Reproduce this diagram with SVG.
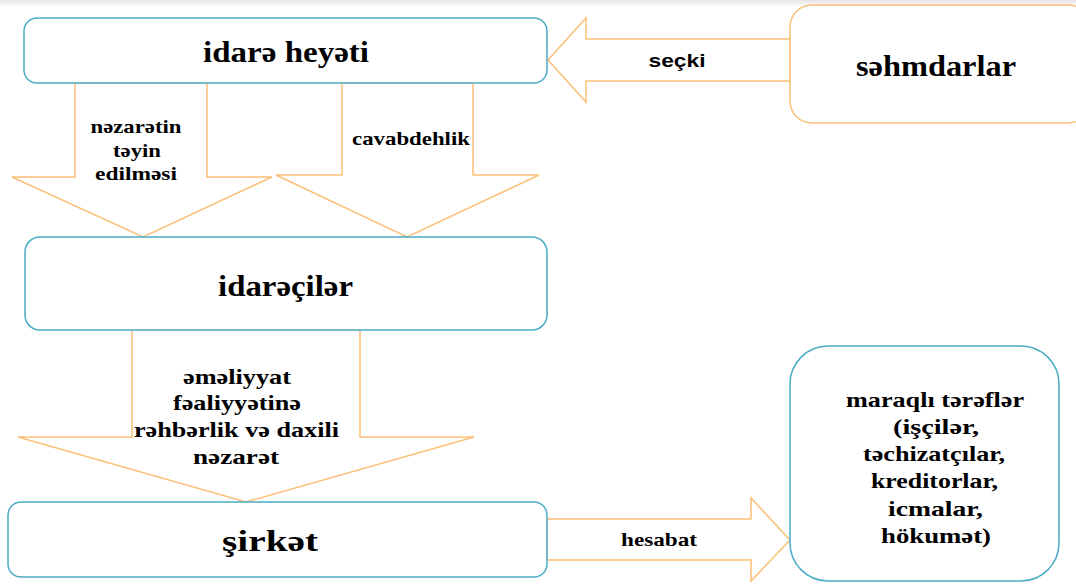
<svg xmlns="http://www.w3.org/2000/svg" width="1076" height="585" viewBox="0 0 1076 585">
<defs>
<linearGradient id="topbar" x1="0" y1="0" x2="0" y2="1">
<stop offset="0" stop-color="#e6e6e6"/>
<stop offset="1" stop-color="#ffffff"/>
</linearGradient>
</defs>
<style>
.box{fill:#fff;stroke:#4bacc6;stroke-width:1.5}
.obox{fill:#fff;stroke:#fbbf77;stroke-width:1.5}
.arr{fill:#fff;stroke:#fbbf77;stroke-width:1.5;stroke-linejoin:miter}
text{fill:#000;text-anchor:middle;font-weight:bold}
.big{font-family:"Liberation Serif",serif;font-size:29px}
.lbl{font-family:"Liberation Serif",serif;font-size:19px}
.mid{font-family:"Liberation Serif",serif;font-size:21px}
.sans{font-family:"Liberation Sans",sans-serif;font-size:19px}
</style>
<rect x="0" y="0" width="1076" height="585" fill="#fff"/>
<rect x="0" y="0" width="1076" height="7" fill="url(#topbar)"/>
<g id="connectors">
<polygon class="arr" points="790,39 586,39 586,18 548,60 586,102 586,81 790,81"/>
<polygon class="arr" points="75,83 207,83 207,177 272,177 143,237 12,177 75,177"/>
<polygon class="arr" points="342,83 473,83 473,175 539,175 407,237 276,175 342,175"/>
<polygon class="arr" points="132,330 360,330 360,437 474,437 246,502 18,437 132,437"/>
<polygon class="arr" points="547,519 751,519 751,498 790,540 751,581 751,560 547,560"/>
<text class="sans" x="677" y="67" textLength="57" lengthAdjust="spacingAndGlyphs">seçki</text>
<text class="lbl" x="136" y="133" textLength="91" lengthAdjust="spacingAndGlyphs">nəzarətin</text>
<text class="lbl" x="137" y="157" textLength="48" lengthAdjust="spacingAndGlyphs">təyin</text>
<text class="lbl" x="136" y="180" textLength="82" lengthAdjust="spacingAndGlyphs">edilməsi</text>
<text class="lbl" x="411" y="145" textLength="118" lengthAdjust="spacingAndGlyphs">cavabdehlik</text>
<text class="mid" x="237" y="384" textLength="108" lengthAdjust="spacingAndGlyphs">əməliyyat</text>
<text class="mid" x="237" y="410" textLength="128" lengthAdjust="spacingAndGlyphs">fəaliyyətinə</text>
<text class="mid" x="236.5" y="437" textLength="205" lengthAdjust="spacingAndGlyphs">rəhbərlik və daxili</text>
<text class="mid" x="236" y="464" textLength="86" lengthAdjust="spacingAndGlyphs">nəzarət</text>
<text class="lbl" x="659" y="546" textLength="76" lengthAdjust="spacingAndGlyphs">hesabat</text>
</g>
<g id="idare-heyeti">
<rect class="box" x="24" y="18" width="523" height="65" rx="13"/>
<text class="big" x="286" y="62" textLength="166" lengthAdjust="spacingAndGlyphs">idarə heyəti</text>
</g>
<g id="sehmdarlar">
<rect class="obox" x="790" y="5" width="300" height="118" rx="22"/>
<text class="big" x="936" y="76" textLength="160" lengthAdjust="spacingAndGlyphs">səhmdarlar</text>
</g>
<g id="idareciler">
<rect class="box" x="25" y="237" width="522" height="93" rx="15"/>
<text class="big" x="285.5" y="296" textLength="135" lengthAdjust="spacingAndGlyphs">idarəçilər</text>
</g>
<g id="sirket">
<rect class="box" x="8" y="502" width="539" height="75" rx="13"/>
<text class="big" x="270" y="551" textLength="96" lengthAdjust="spacingAndGlyphs">şirkət</text>
</g>
<g id="maraqli-terefler">
<rect class="box" x="790" y="346" width="269" height="235" rx="38"/>
<text class="mid" x="935" y="407" textLength="178" lengthAdjust="spacingAndGlyphs">maraqlı tərəflər</text>
<text class="mid" x="936" y="434" textLength="86" lengthAdjust="spacingAndGlyphs">(işçilər,</text>
<text class="mid" x="934" y="461" textLength="142" lengthAdjust="spacingAndGlyphs">təchizatçılar,</text>
<text class="mid" x="934.5" y="488" textLength="127" lengthAdjust="spacingAndGlyphs">kreditorlar,</text>
<text class="mid" x="935.5" y="516" textLength="95" lengthAdjust="spacingAndGlyphs">icmalar,</text>
<text class="mid" x="936" y="543" textLength="110" lengthAdjust="spacingAndGlyphs">hökumət)</text>
</g>
</svg>
